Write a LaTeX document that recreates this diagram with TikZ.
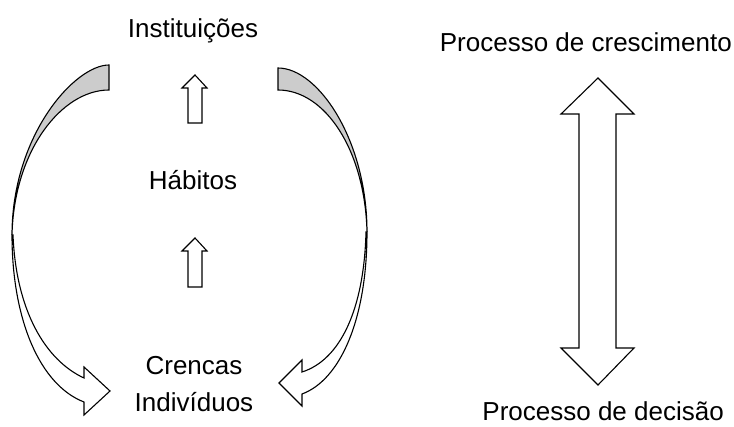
\documentclass[tikz,border=0pt]{standalone}
\usepackage{fontspec}
\setmainfont{Liberation Sans}
\tikzset{
  blockarrow/.style={draw, line width=1.1pt, line join=miter, fill=white},
  backband/.style={draw, line width=1.1pt, fill=black!20},
  lbl/.style={anchor=base, inner sep=0pt, font=\fontsize{26}{31}\selectfont}
}
\begin{document}
\begin{tikzpicture}[x=1pt,y=-1pt]
\useasboundingbox (0,0) rectangle (734,427);
\node[lbl] (inst) at (193,38) {Instituições};
\node[lbl] (hab) at (193,190) {Hábitos};
\node[lbl] (cren) at (194,375) {Crencas};
\node[lbl] (indiv) at (194,412) {Indivíduos};
\node[lbl, anchor=base east] (cresc) at (732,52) {Processo de crescimento};
\node[lbl, anchor=base east] (decis) at (724,421) {Processo de decisão};
\draw[backband] (109,65) .. controls (75,65) and (12,135) .. (12,235) .. controls (14,150) and (62,90) .. (109,90) -- cycle;
\draw[blockarrow] (12,235) .. controls (12,320) and (40,385) .. (84,402) -- (84,415) -- (110,391) -- (84,367) -- (84,378) .. controls (45,360) and (16,310) .. (13,235) -- cycle;
\draw[backband] (278,68) .. controls (318,68) and (367,140) .. (367,232) .. controls (365,150) and (325,90) .. (278,90) -- cycle;
\draw[blockarrow] (367,232) .. controls (367,320) and (340,380) .. (302,394) -- (302,406) -- (279,383) -- (302,360) -- (302,372) .. controls (340,360) and (364,310) .. (366,232) -- cycle;
\foreach \t/\b in {75/123, 238/287}
  \draw[blockarrow] (195,\t) -- (207,\t+13) -- (202,\t+13) -- (202,\b) -- (188,\b) -- (188,\t+13) -- (182,\t+13) -- cycle;
\draw[blockarrow] (598,78) -- (634,114) -- (616,114) -- (616,348) -- (634,348) -- (598,385) -- (561,348) -- (579,348) -- (579,114) -- (561,114) -- cycle;
\end{tikzpicture}
\end{document}
